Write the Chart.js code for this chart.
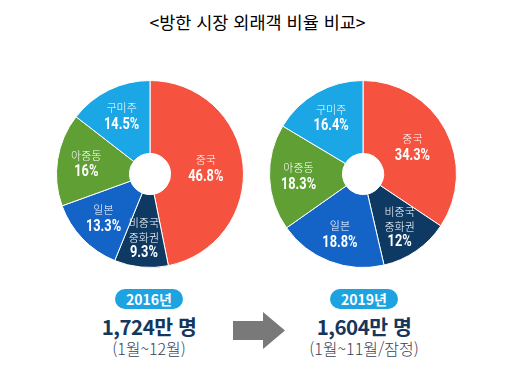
<!DOCTYPE html>
<html lang="ko">
<head>
<meta charset="utf-8">
<script src="https://cdn.jsdelivr.net/npm/chart.js@4.4.1/dist/chart.umd.min.js"></script>
<style>
  html, body { margin: 0; padding: 0; background: #fff; }
  body { width: 515px; height: 386px; position: relative; overflow: hidden;
         font-family: "Noto Sans CJK KR", sans-serif; }
  .title { position: absolute; left: 0; width: 515px; top: 10px; text-align: center;
           font-size: 17.5px; color: #000; line-height: 24px; }
  canvas { position: absolute; }
  .pill { position: absolute; width: 68px; height: 20px; border-radius: 10px; background: #1ea3e1;
          color: #fff; font-weight: 700; font-size: 14px; line-height: 20px; text-align: center; }
  .total { position: absolute; width: 160px; text-align: center; font-weight: 700; font-size: 20.5px;
           color: #15365d; line-height: 24px; letter-spacing: -0.5px; }
  .period { position: absolute; width: 180px; text-align: center; font-size: 16px; color: #34425a;
            line-height: 20px; font-weight: 300; }
  .arrow { position: absolute; left: 233px; top: 312px; width: 52px; height: 37px; background: #797979;
           clip-path: polygon(0 9px, 30px 9px, 30px 0, 52px 18.5px, 30px 37px, 30px 28px, 0 28px); }
</style>
</head>
<body>
<div class="title" id="title"></div>
<canvas id="pie2016" width="200" height="200" style="left:50px;top:74px"></canvas>
<canvas id="pie2019" width="200" height="200" style="left:263px;top:74px"></canvas>
<div id="bottom"></div>
<div class="arrow"></div>
<script>
// 데이터
const titleText = '<방한 시장 외래객 비율 비교>';
const categories = ['중국', '비중국 중화권', '일본', '아중동', '구미주'];
const share2016 = [46.8, 9.3, 13.3, 16, 14.5];
const share2019 = [34.3, 12, 18.8, 18.3, 16.4];
const years = ['2016년', '2019년'];
const totals = ['1,724만 명', '1,604만 명'];
const periods = ['(1월~12월)', '(1월~11월/잠정)'];

const colors = ['#f5533f', '#0d3962', '#1464c8', '#5f9f33', '#1ba7e6'];

document.getElementById('title').textContent = titleText;

// 조각 안에 이름과 비율 그리기
const sliceLabels = {
    id: 'sliceLabels',
    afterDatasetsDraw(chart) {
        const ctx = chart.ctx;
        const meta = chart.getDatasetMeta(0);
        const values = chart.data.datasets[0].data;
        meta.data.forEach((arc, i) => {
            const mid = (arc.startAngle + arc.endAngle) / 2;
            const k = values[i] > 30 ? 0.6 : 0.69;
            const x = arc.x + Math.cos(mid) * arc.outerRadius * k;
            const y = arc.y + Math.sin(mid) * arc.outerRadius * k;
            const names = chart.data.labels[i].split(' ');
            const lineH = names.length > 1 ? 15 : 17;
            const total = names.length * lineH;
            let yy = y - total / 2;
            ctx.save();
            ctx.fillStyle = '#fff';
            ctx.textAlign = 'center';
            ctx.textBaseline = 'middle';
            ctx.font = '300 11px "Noto Sans CJK KR"';
            names.forEach(n => {
                ctx.fillText(n, x, yy);
                yy += lineH;
            });
            ctx.translate(x, yy);
            ctx.scale(0.8, 1);
            ctx.font = 'bold 16px Roboto';
            ctx.fillText(values[i] + '%', 0, 0);
            ctx.restore();
        });
    }
};

function makePie(id, values) {
    return new Chart(document.getElementById(id), {
        type: 'doughnut',
        data: {
            labels: categories,
            datasets: [{
                data: values,
                backgroundColor: colors,
                borderColor: '#fff',
                borderWidth: 1
            }]
        },
        options: {
            responsive: false,
            animation: false,
            cutout: '22%',
            layout: { padding: 6 },
            plugins: { legend: { display: false }, tooltip: { enabled: false } }
        },
        plugins: [sliceLabels]
    });
}

makePie('pie2016', share2016);
makePie('pie2019', share2019);

// 하단 텍스트
const centers = [149, 364];
const bottom = document.getElementById('bottom');
centers.forEach((cx, i) => {
    bottom.insertAdjacentHTML('beforeend',
        `<div class="pill" style="left:${cx - 34}px;top:289px">${years[i]}</div>` +
        `<div class="total" style="left:${cx - 80}px;top:314px">${totals[i]}</div>` +
        `<div class="period" style="left:${cx - 90}px;top:338px">${periods[i]}</div>`);
});
</script>
</body>
</html>
